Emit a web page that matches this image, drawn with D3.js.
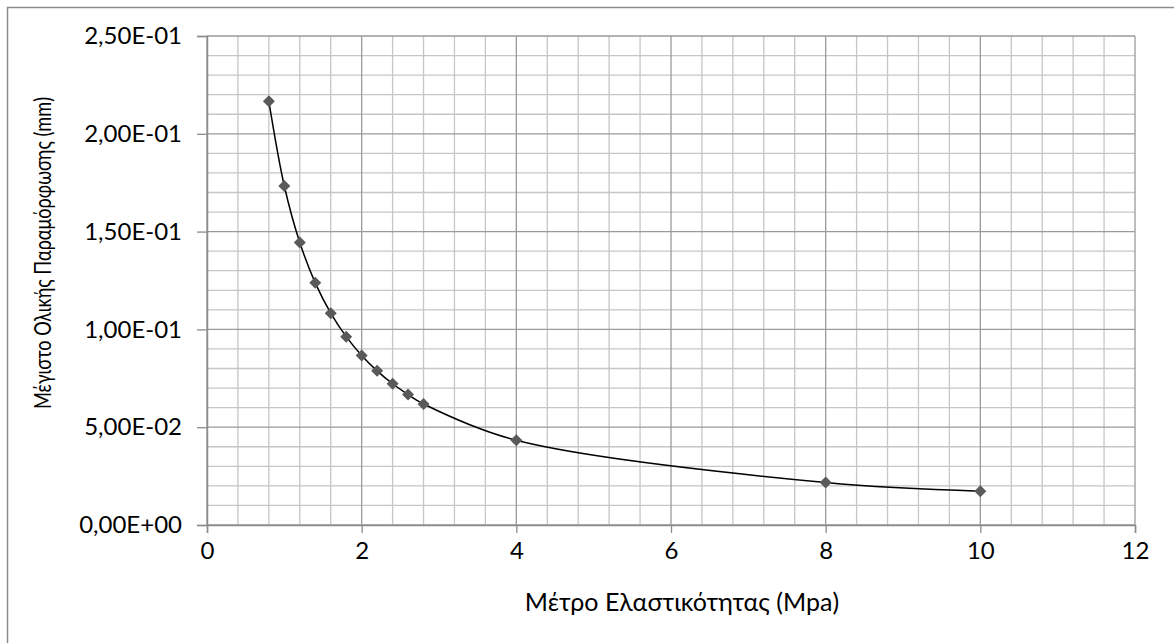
<!DOCTYPE html>
<html>
<head>
<meta charset="utf-8">
<script src="https://cdn.jsdelivr.net/npm/d3@7"></script>
<style>
  html, body { margin: 0; padding: 0; background: #fff; }
  svg { display: block; font-family: Lato, "Open Sans", sans-serif; }
</style>
</head>
<body>
<div id="chart"></div>
<script>
// Μέγιστο Ολικής Παραμόρφωσης vs Μέτρο Ελαστικότητας

const modulus = [0.8, 1.0, 1.2, 1.4, 1.6, 1.8, 2.0, 2.2, 2.4, 2.6, 2.8, 4, 8, 10];
const deformation = [0.2166, 0.1733, 0.1444, 0.1238, 0.1083, 0.0963, 0.0867,
                     0.0788, 0.0722, 0.0667, 0.0619, 0.0433, 0.0217, 0.0173];
const xTicks = [0, 2, 4, 6, 8, 10, 12];
const yTicks = [0, 0.05, 0.10, 0.15, 0.20, 0.25];
const xTitle = 'Μέτρο Ελαστικότητας (Mpa)';
const yTitle = 'Μέγιστο Ολικής Παραμόρφωσης (mm)';

const W = 1174, H = 643;
const m = { left: 207, right: 1135, top: 36, bottom: 525 };

const svg = d3.select('#chart').append('svg')
    .attr('width', W).attr('height', H);

// outer chart border (runs off the right/bottom edge)
svg.append('rect')
    .attr('x', 7.5).attr('y', 7.5)
    .attr('width', W + 10).attr('height', H + 10)
    .attr('fill', 'none').attr('stroke', '#8c8c8c').attr('stroke-width', 1.5);

const x = d3.scaleLinear().domain([0, 12]).range([m.left, m.right]);
const y = d3.scaleLinear().domain([0, 0.25]).range([m.bottom, m.top]);

const fmtY = v => v.toExponential(2).replace('.', ',')
    .replace(/e([+-])(\d)$/, 'E$10$2').replace(/e([+-])(\d\d)$/, 'E$1$2');

// minor grid
const g = svg.append('g');
g.selectAll('.vminor')
    .data(d3.range(0, 12.001, 0.4).filter(v => Math.abs(v / 2 - Math.round(v / 2)) > 1e-6))
    .enter().append('line')
    .attr('x1', d => x(d)).attr('x2', d => x(d))
    .attr('y1', m.top).attr('y2', m.bottom)
    .attr('stroke', '#c6c6c6').attr('stroke-width', 1.3);
g.selectAll('.hminor')
    .data(d3.range(0, 0.2501, 0.01).filter(v => Math.abs(v / 0.05 - Math.round(v / 0.05)) > 1e-6))
    .enter().append('line')
    .attr('x1', m.left).attr('x2', m.right)
    .attr('y1', d => y(d)).attr('y2', d => y(d))
    .attr('stroke', '#c6c6c6').attr('stroke-width', 1.3);

// major grid
g.selectAll('.vmajor')
    .data(xTicks).enter().append('line')
    .attr('x1', d => x(d)).attr('x2', d => x(d))
    .attr('y1', m.top).attr('y2', m.bottom)
    .attr('stroke', '#9a9a9a').attr('stroke-width', 1.3);
g.selectAll('.hmajor')
    .data(yTicks).enter().append('line')
    .attr('x1', m.left).attr('x2', m.right)
    .attr('y1', d => y(d)).attr('y2', d => y(d))
    .attr('stroke', '#9a9a9a').attr('stroke-width', 1.3);

// axes
const xAxis = svg.append('g')
    .attr('transform', `translate(0,${m.bottom})`)
    .call(d3.axisBottom(x).tickValues(xTicks).tickSize(8).tickPadding(9));
const yAxis = svg.append('g')
    .attr('transform', `translate(${m.left},0)`)
    .call(d3.axisLeft(y).tickValues(yTicks).tickFormat(fmtY).tickSize(10).tickPadding(15));

[xAxis, yAxis].forEach(a => {
    a.select('.domain').attr('stroke', '#8c8c8c').attr('stroke-width', 1.5);
    a.selectAll('.tick line').attr('stroke', '#8c8c8c').attr('stroke-width', 1.3);
    a.selectAll('.tick text')
        .attr('fill', '#000').attr('font-size', 24)
        .attr('font-family', 'Lato, "Open Sans", sans-serif');
});

// axis titles
svg.append('text')
    .attr('x', 682).attr('y', 611)
    .attr('text-anchor', 'middle').attr('font-size', 25)
    .text(xTitle);
svg.append('text')
    .attr('transform', `translate(51,253) rotate(-90)`)
    .attr('text-anchor', 'middle').attr('font-size', 23)
    .attr('textLength', 312).attr('lengthAdjust', 'spacingAndGlyphs')
    .text(yTitle);

// smoothed line
const pts = modulus.map((v, i) => [v, deformation[i]]);
const line = d3.line()
    .x(d => x(d[0])).y(d => y(d[1]))
    .curve(d3.curveCatmullRom.alpha(0.5));
svg.append('path')
    .datum(pts)
    .attr('d', line)
    .attr('fill', 'none').attr('stroke', '#000').attr('stroke-width', 1.5);

// diamond markers
svg.selectAll('.pt')
    .data(pts).enter().append('path')
    .attr('transform', d => `translate(${x(d[0])},${y(d[1])})`)
    .attr('d', 'M0,-6L6,0L0,6L-6,0Z')
    .attr('fill', '#5a5a5a');
</script>
</body>
</html>
